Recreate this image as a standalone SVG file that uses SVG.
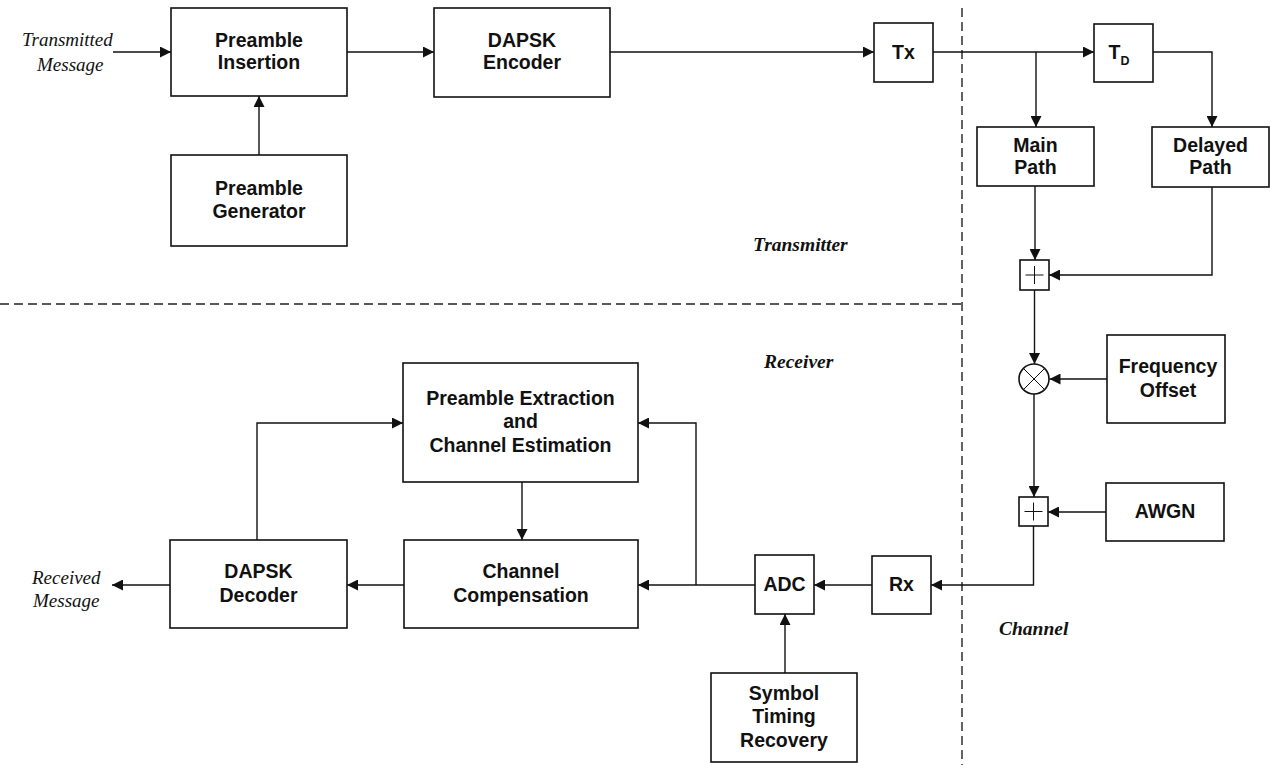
<svg xmlns="http://www.w3.org/2000/svg" width="1270" height="765" viewBox="0 0 1270 765">
<style>
.box{fill:#fff;stroke:#111;stroke-width:1.6}
.t{font-family:"Liberation Sans",Arial,sans-serif;font-weight:bold;font-size:19.5px;fill:#111;text-anchor:middle}
.it{font-family:"Liberation Serif","Times New Roman",serif;font-style:italic;font-size:19px;fill:#111}
.bi{font-family:"Liberation Serif","Times New Roman",serif;font-style:italic;font-weight:bold;font-size:19.5px;fill:#111}
.w{fill:none;stroke:#111;stroke-width:1.4}
.thin{fill:none;stroke:#111;stroke-width:1}
.dash{fill:none;stroke:#222;stroke-width:1.4;stroke-dasharray:9 5}
</style>
<defs>
<marker id="ah" markerWidth="12" markerHeight="11" refX="11" refY="5.5" orient="auto" markerUnits="userSpaceOnUse">
<path d="M0,0 L11,5.5 L0,11 Z" fill="#111"/>
</marker>
</defs>
<rect width="1270" height="765" fill="#fff"/>

<g id="dividers">
<line class="dash" x1="962" y1="8" x2="962" y2="765"/>
<line class="dash" x1="0" y1="304" x2="962" y2="304"/>
</g>

<g id="section-labels">
<text class="bi" x="753" y="251">Transmitter</text>
<text class="bi" x="764" y="368">Receiver</text>
<text class="bi" x="999" y="635">Channel</text>
<text class="it" x="22" y="46">Transmitted</text>
<text class="it" x="37" y="71">Message</text>
<text class="it" x="32" y="584">Received</text>
<text class="it" x="33" y="607">Message</text>
</g>

<g id="connectors">
<line class="w" x1="113" y1="52" x2="171" y2="52" marker-end="url(#ah)"/>
<line class="w" x1="347" y1="52" x2="434" y2="52" marker-end="url(#ah)"/>
<line class="w" x1="259" y1="155" x2="259" y2="96" marker-end="url(#ah)"/>
<line class="w" x1="610" y1="52" x2="874" y2="52" marker-end="url(#ah)"/>
<line class="w" x1="933" y1="52" x2="1094" y2="52" marker-end="url(#ah)"/>
<line class="w" x1="1036" y1="52" x2="1036" y2="127" marker-end="url(#ah)"/>
<polyline class="w" points="1153,52 1212,52 1212,127" marker-end="url(#ah)"/>
<line class="w" x1="1035" y1="186" x2="1035" y2="260" marker-end="url(#ah)"/>
<polyline class="w" points="1212,187 1212,275 1049,275" marker-end="url(#ah)"/>
<line class="w" x1="1034.5" y1="290" x2="1034.5" y2="364" marker-end="url(#ah)"/>
<line class="w" x1="1107" y1="379" x2="1049.5" y2="379" marker-end="url(#ah)"/>
<line class="w" x1="1034" y1="394" x2="1034" y2="497" marker-end="url(#ah)"/>
<line class="w" x1="1106" y1="512" x2="1048" y2="512" marker-end="url(#ah)"/>
<polyline class="w" points="1033.5,526 1033.5,585 931,585" marker-end="url(#ah)"/>
<line class="w" x1="872" y1="585" x2="814" y2="585" marker-end="url(#ah)"/>
<line class="w" x1="785" y1="673" x2="785" y2="614" marker-end="url(#ah)"/>
<line class="w" x1="755" y1="585" x2="638" y2="585" marker-end="url(#ah)"/>
<polyline class="w" points="696,585 696,423 638,423" marker-end="url(#ah)"/>
<line class="w" x1="522" y1="482" x2="522" y2="540" marker-end="url(#ah)"/>
<line class="w" x1="404" y1="585" x2="347" y2="585" marker-end="url(#ah)"/>
<polyline class="w" points="257,540 257,423 403,423" marker-end="url(#ah)"/>
<line class="w" x1="170" y1="585" x2="112" y2="585" marker-end="url(#ah)"/>
</g>

<g id="preamble-insertion">
<rect class="box" x="171" y="8" width="176" height="88"/>
<text class="t" x="259" y="47">Preamble</text>
<text class="t" x="259" y="69">Insertion</text>
</g>
<g id="dapsk-encoder">
<rect class="box" x="434" y="8" width="176" height="89"/>
<text class="t" x="522" y="47">DAPSK</text>
<text class="t" x="522" y="69">Encoder</text>
</g>
<g id="preamble-generator">
<rect class="box" x="171" y="155" width="176" height="91"/>
<text class="t" x="259" y="195">Preamble</text>
<text class="t" x="259" y="218">Generator</text>
</g>
<g id="tx">
<rect class="box" x="874" y="23" width="59" height="59"/>
<text class="t" x="903.5" y="59">Tx</text>
</g>
<g id="td">
<rect class="box" x="1094" y="24" width="59" height="58"/>
<text class="t" x="1119" y="59">T<tspan font-size="12.5" dy="6">D</tspan></text>
</g>
<g id="main-path">
<rect class="box" x="977" y="127" width="117" height="59"/>
<text class="t" x="1035.5" y="152">Main</text>
<text class="t" x="1035.5" y="174">Path</text>
</g>
<g id="delayed-path">
<rect class="box" x="1152" y="127" width="117" height="60"/>
<text class="t" x="1210.5" y="152">Delayed</text>
<text class="t" x="1210.5" y="174">Path</text>
</g>
<g id="adder1">
<rect class="box" x="1020" y="260" width="29" height="30"/>
<path class="thin" d="M1025.5,275 H1043.5 M1034.5,266 V284"/>
</g>
<g id="multiplier">
<circle class="box" cx="1034" cy="379" r="15"/>
<path class="thin" d="M1023.5,368.5 L1044.5,389.5 M1044.5,368.5 L1023.5,389.5"/>
</g>
<g id="frequency-offset">
<rect class="box" x="1107" y="335" width="118" height="88"/>
<text class="t" x="1168" y="373">Frequency</text>
<text class="t" x="1168" y="397">Offset</text>
</g>
<g id="adder2">
<rect class="box" x="1019" y="497" width="29" height="29"/>
<path class="thin" d="M1024.5,511.5 H1042.5 M1033.5,502.5 V520.5"/>
</g>
<g id="awgn">
<rect class="box" x="1106" y="483" width="118" height="58"/>
<text class="t" x="1165" y="518">AWGN</text>
</g>
<g id="rx">
<rect class="box" x="872" y="556" width="59" height="58"/>
<text class="t" x="901.5" y="591">Rx</text>
</g>
<g id="adc">
<rect class="box" x="755" y="555" width="59" height="59"/>
<text class="t" x="784.5" y="591">ADC</text>
</g>
<g id="symbol-timing-recovery">
<rect class="box" x="711" y="673" width="146" height="89"/>
<text class="t" x="784" y="700">Symbol</text>
<text class="t" x="784" y="723">Timing</text>
<text class="t" x="784" y="747">Recovery</text>
</g>
<g id="preamble-extraction">
<rect class="box" x="403" y="363" width="235" height="119"/>
<text class="t" x="520.5" y="405">Preamble Extraction</text>
<text class="t" x="520.5" y="428">and</text>
<text class="t" x="520.5" y="452">Channel Estimation</text>
</g>
<g id="channel-compensation">
<rect class="box" x="404" y="540" width="234" height="88"/>
<text class="t" x="521" y="578">Channel</text>
<text class="t" x="521" y="602">Compensation</text>
</g>
<g id="dapsk-decoder">
<rect class="box" x="170" y="540" width="177" height="88"/>
<text class="t" x="258.5" y="578">DAPSK</text>
<text class="t" x="258.5" y="602">Decoder</text>
</g>
</svg>
